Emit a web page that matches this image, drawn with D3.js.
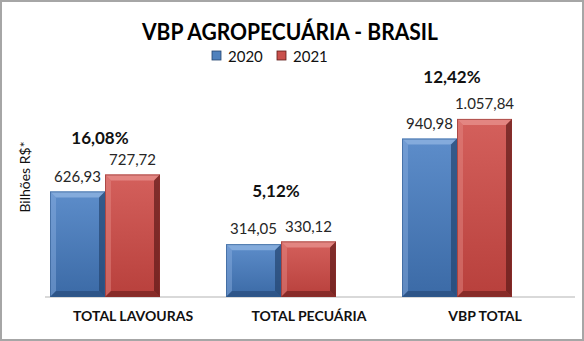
<!DOCTYPE html>
<html><head><meta charset="utf-8">
<script src="https://cdn.jsdelivr.net/npm/d3@7/dist/d3.min.js"></script>
<style>body{margin:0;background:#fff}svg{display:block;font-family:Lato,"Open Sans",sans-serif}</style>
</head><body><svg id="c" width="584" height="341"></svg>
<script>
const categories = ["TOTAL LAVOURAS", "TOTAL PECUÁRIA", "VBP TOTAL"];
const seriesNames = ["2020", "2021"];
const values2020 = [626.93, 314.05, 940.98];
const values2021 = [727.72, 330.12, 1057.84];
const growthLabels = ["16,08%", "5,12%", "12,42%"];
const chartTitle = "VBP AGROPECUÁRIA - BRASIL";
const yTitle = "Bilhões R$*";

const layout = { pctOffsets: [36, 50, 42], legendX: [212, 277] };

const svg = d3.select("#c");
const W = 584, H = 341;
const fmt = d3.formatLocale({decimal: ",", thousands: ".", grouping: [3], currency: ["R$", ""]}).format(",.2f");

const colors = {
  "2020": {light: "#8bb0df", main: "#4f81bd", top: "#5d8dca", bot: "#3b6aa6", dark: "#23446f", edge: "#2f5a8f"},
  "2021": {light: "#e58c88", main: "#c9504c", top: "#d4605c", bot: "#b8403c", dark: "#5e1a18", edge: "#8e2e2b"}
};

const defs = svg.append("defs");
seriesNames.forEach(s => {
  const g = defs.append("linearGradient").attr("id", "g" + s).attr("x1", 0).attr("y1", 0).attr("x2", 0).attr("y2", 1);
  g.append("stop").attr("offset", "0%").attr("stop-color", colors[s].top);
  g.append("stop").attr("offset", "100%").attr("stop-color", colors[s].bot);
});

// border
svg.append("rect").attr("x", 1).attr("y", 1).attr("width", W - 2).attr("height", H - 2)
  .attr("fill", "#fff").attr("stroke", "#a6a6a6").attr("stroke-width", 2);

const x0 = d3.scaleBand().domain(categories).range([45, 573]).padding(0);
const x1 = d3.scaleBand().domain(seriesNames).range([0, 110]).padding(0);
const y = d3.scaleLinear().domain([0, 1200]).range([297, 95]);
const groupShift = -28;

// baseline
svg.append("line").attr("x1", 45).attr("x2", 575).attr("y1", y(0)).attr("y2", y(0))
  .attr("stroke", "#d9d9d9").attr("stroke-width", 2);

const data = [];
categories.forEach((c, i) => {
  data.push({c, s: "2020", v: values2020[i]});
  data.push({c, s: "2021", v: values2021[i]});
});

const b = 6;
const bars = svg.append("g").selectAll("g").data(data).join("g")
  .attr("transform", d => `translate(${x0(d.c) + x0.bandwidth() / 2 + groupShift - 55 + x1(d.s)},0)`);

bars.each(function(d) {
  const g = d3.select(this);
  const w = x1.bandwidth();
  const t = y(d.v), bt = y(0), h = bt - t;
  const col = colors[d.s];
  g.append("rect").attr("x", 0).attr("y", t).attr("width", w).attr("height", h).attr("fill", `url(#g${d.s})`);
  g.append("polygon").attr("points", `0,${t} ${w},${t} ${w - b},${t + b} ${b},${t + b}`).attr("fill", col.light).attr("opacity", 0.85);
  g.append("polygon").attr("points", `0,${t} ${b},${t + b} ${b},${bt - b} 0,${bt}`).attr("fill", col.light).attr("opacity", 0.45);
  g.append("polygon").attr("points", `${w},${t} ${w},${bt} ${w - b},${bt - b} ${w - b},${t + b}`).attr("fill", col.dark).attr("opacity", 0.7);
  g.append("polygon").attr("points", `0,${bt} ${w},${bt} ${w - b},${bt - b} ${b},${bt - b}`).attr("fill", col.dark).attr("opacity", 0.55);
  g.append("rect").attr("x", 0.5).attr("y", t + 0.5).attr("width", w - 1).attr("height", h - 1)
    .attr("fill", "none").attr("stroke", col.edge).attr("stroke-width", 1).attr("opacity", 0.6);
});

// value labels
svg.append("g").selectAll("text").data(data).join("text")
  .attr("x", d => x0(d.c) + x0.bandwidth() / 2 + groupShift - 55 + x1(d.s) + x1.bandwidth() / 2)
  .attr("y", d => y(d.v) - 15)
  .attr("dy", "0.35em").attr("text-anchor", "middle")
  .attr("font-size", 15).attr("fill", "#262626")
  .text(d => fmt(d.v));

// growth labels
svg.append("g").selectAll("text").data(categories).join("text")
  .attr("x", c => x0(c) + x0.bandwidth() / 2 + groupShift - 5)
  .attr("y", (c, i) => y(values2021[i]) - layout.pctOffsets[i])
  .attr("dy", "0.35em").attr("text-anchor", "middle")
  .attr("font-size", 17).attr("font-weight", "bold").attr("fill", "#111")
  .text((c, i) => growthLabels[i]);

// x axis labels
const xAxis = svg.append("g").attr("transform", `translate(0,${y(0)})`)
  .call(d3.axisBottom(x0).tickSize(0).tickPadding(14));
xAxis.select(".domain").remove();
xAxis.selectAll("text").attr("font-size", 14).attr("font-weight", "bold").attr("fill", "#111")
  .attr("font-family", "Lato, sans-serif");

// y title
svg.append("text").attr("transform", "translate(25,177) rotate(-90)")
  .attr("text-anchor", "middle").attr("dy", "0.35em")
  .attr("font-size", 14).attr("fill", "#111").text(yTitle);

// title
svg.append("text").attr("x", 142).attr("y", 40)
  .attr("font-size", 23.5).attr("font-weight", "bold").attr("fill", "#000")
  .attr("textLength", 296).attr("lengthAdjust", "spacingAndGlyphs").text(chartTitle);

// legend
const leg = svg.append("g").selectAll("g").data(seriesNames).join("g")
  .attr("transform", (s, i) => `translate(${layout.legendX[i]},51)`);
leg.append("rect").attr("width", 9).attr("height", 9).attr("fill", s => colors[s].main)
  .attr("stroke", s => colors[s].dark).attr("stroke-width", 0.8);
leg.append("text").attr("x", 16).attr("y", 11).attr("font-size", 15).attr("fill", "#111").text(s => s);
</script></body></html>
